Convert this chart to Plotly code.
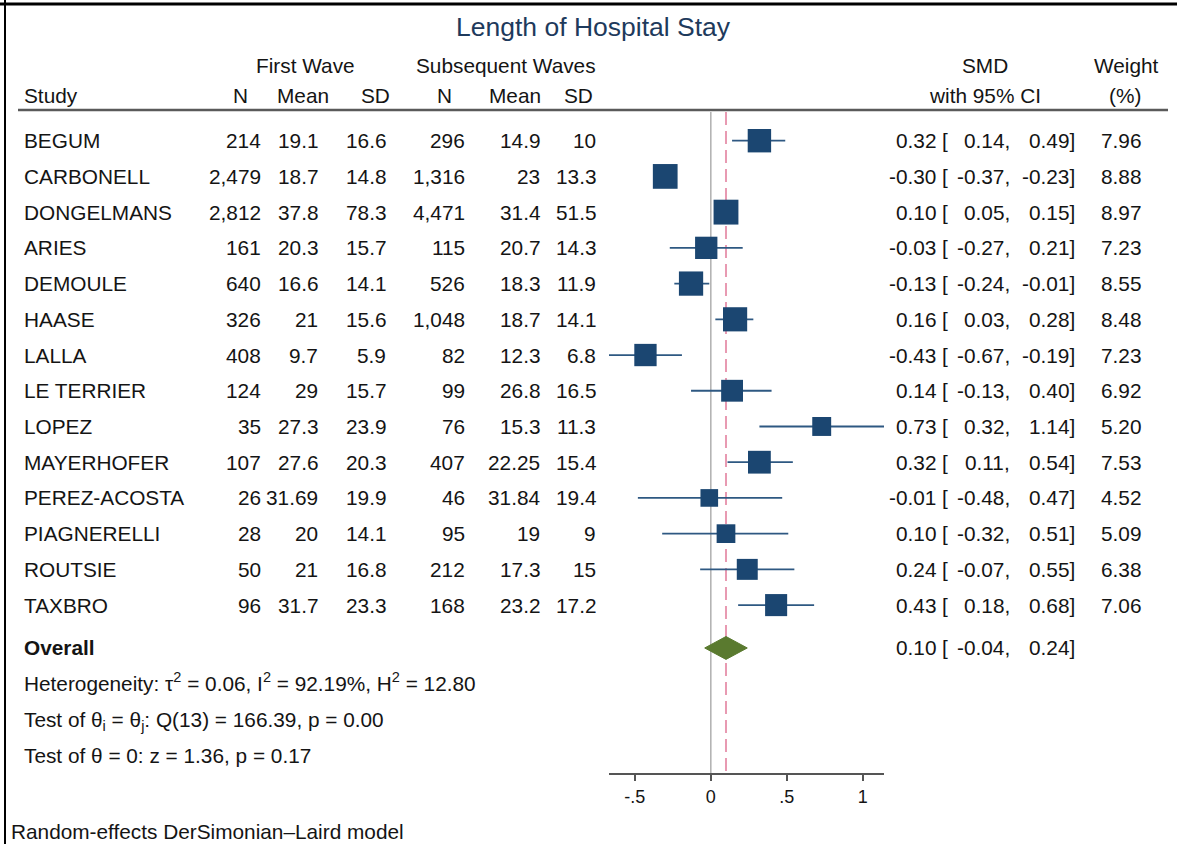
import math
import plotly.graph_objects as go

W, H = 1177, 844

# ---------------- data ----------------
studies = ["BEGUM", "CARBONELL", "DONGELMANS", "ARIES", "DEMOULE", "HAASE", "LALLA",
           "LE TERRIER", "LOPEZ", "MAYERHOFER", "PEREZ-ACOSTA", "PIAGNERELLI", "ROUTSIE", "TAXBRO"]
n_first = [214, 2479, 2812, 161, 640, 326, 408, 124, 35, 107, 26, 28, 50, 96]
mean_first = [19.1, 18.7, 37.8, 20.3, 16.6, 21, 9.7, 29, 27.3, 27.6, 31.69, 20, 21, 31.7]
sd_first = [16.6, 14.8, 78.3, 15.7, 14.1, 15.6, 5.9, 15.7, 23.9, 20.3, 19.9, 14.1, 16.8, 23.3]
n_sub = [296, 1316, 4471, 115, 526, 1048, 82, 99, 76, 407, 46, 95, 212, 168]
mean_sub = [14.9, 23, 31.4, 20.7, 18.3, 18.7, 12.3, 26.8, 15.3, 22.25, 31.84, 19, 17.3, 23.2]
sd_sub = [10, 13.3, 51.5, 14.3, 11.9, 14.1, 6.8, 16.5, 11.3, 15.4, 19.4, 9, 15, 17.2]
smd = [0.32, -0.30, 0.10, -0.03, -0.13, 0.16, -0.43, 0.14, 0.73, 0.32, -0.01, 0.10, 0.24, 0.43]
ci_lo = [0.14, -0.37, 0.05, -0.27, -0.24, 0.03, -0.67, -0.13, 0.32, 0.11, -0.48, -0.32, -0.07, 0.18]
ci_hi = [0.49, -0.23, 0.15, 0.21, -0.01, 0.28, -0.19, 0.40, 1.14, 0.54, 0.47, 0.51, 0.55, 0.68]
weight = [7.96, 8.88, 8.97, 7.23, 8.55, 8.48, 7.23, 6.92, 5.20, 7.53, 4.52, 5.09, 6.38, 7.06]

overall_es, overall_lo, overall_hi = 0.10, -0.04, 0.24
tau2, i2, h2 = 0.06, 92.19, 12.80
q_df, q_stat, q_p = 13, 166.39, 0.00
z_stat, z_p = 1.36, 0.17

tick_vals = [-0.5, 0, 0.5, 1]
tick_text = ["-.5", "0", ".5", "1"]

# ---------------- layout helpers ----------------
rows = list(range(len(studies)))
ov_row = 14.2
stat_rows = [15.2, 16.2, 17.2]
Y_TOP, Y_BOT = -0.803, 17.70          # row units at plot top / axis line
FONT = "Liberation Sans, Arial, sans-serif"
TXT = "#141414"
FS = 20.8


def px(x):
    return x / W


def py(y):
    return 1 - y / H


fig = go.Figure()

# CI lines
xs, ys = [], []
for r, lo, hi in zip(rows, ci_lo, ci_hi):
    xs += [lo, hi, None]
    ys += [r, r, None]
fig.add_trace(go.Scatter(x=xs, y=ys, mode="lines",
                         line=dict(color="#2e5882", width=1.8),
                         hoverinfo="skip", showlegend=False))

# study squares (area proportional to weight)
fig.add_trace(go.Scatter(x=smd, y=rows, mode="markers",
                         marker=dict(symbol="square", opacity=1,
                                     size=[8.3 * math.sqrt(w) for w in weight],
                                     color="#1b4671", line=dict(width=0)),
                         showlegend=False))

# overall diamond
dh = 0.32
fig.add_trace(go.Scatter(x=[overall_lo, overall_es, overall_hi, overall_es, overall_lo],
                         y=[ov_row, ov_row - dh, ov_row, ov_row + dh, ov_row],
                         mode="lines", fill="toself", fillcolor="#5a7a2f",
                         line=dict(color="#5a7a2f", width=1), showlegend=False))

shapes = [
    # no-effect line
    dict(type="line", xref="x", yref="y", x0=0, x1=0, y0=Y_TOP, y1=Y_BOT,
         line=dict(color="#b4b4b4", width=1.6), layer="below"),
    # overall effect line
    dict(type="line", xref="x", yref="y", x0=overall_es, x1=overall_es, y0=Y_TOP, y1=Y_BOT,
         line=dict(color="#e89ab2", width=2, dash="13px,6px"), layer="below"),
    # header rule
    dict(type="line", xref="paper", yref="paper", x0=px(18), x1=px(1168), y0=py(110), y1=py(110),
         line=dict(color="#5a5a5a", width=2.5)),
    # frame borders
    dict(type="line", xref="paper", yref="paper", x0=0, x1=1, y0=py(4), y1=py(4),
         line=dict(color="#000000", width=3)),
    dict(type="line", xref="paper", yref="paper", x0=px(5), x1=px(5), y0=0, y1=1,
         line=dict(color="#000000", width=2)),
]

annotations = []


def txt(x, y, text, anchor="right", yref="y", size=FS, color=TXT):
    annotations.append(dict(
        x=px(x), xref="paper", y=(y if yref == "y" else py(y)), yref=yref,
        text=text, showarrow=False, xanchor=anchor, yanchor="middle",
        font=dict(family=FONT, size=size, color=color), borderpad=0))


def fmt_n(v):
    return f"{v:,}"


def fmt_g(v):
    return f"{v:g}"


# title and headers
txt(593, 27, "Length of Hospital Stay", anchor="center", yref="paper", size=26.5, color="#1e3a5c")
txt(305, 66, "First Wave", anchor="center", yref="paper")
txt(506, 66, "Subsequent Waves", anchor="center", yref="paper")
txt(985, 66, "SMD", anchor="center", yref="paper")
txt(1126, 66, "Weight", anchor="center", yref="paper")
txt(23, 95, "Study", anchor="left", yref="paper")
txt(240, 95, "N", anchor="center", yref="paper")
txt(303, 95, "Mean", anchor="center", yref="paper")
txt(375, 95, "SD", anchor="center", yref="paper")
txt(444, 95, "N", anchor="center", yref="paper")
txt(515, 95, "Mean", anchor="center", yref="paper")
txt(578, 95, "SD", anchor="center", yref="paper")
txt(985, 95, "with 95% CI", anchor="center", yref="paper")
txt(1125, 95, "(%)", anchor="center", yref="paper")

# table rows
for r in rows:
    txt(23, r, studies[r], anchor="left")
    txt(262, r, fmt_n(n_first[r]))
    txt(319, r, fmt_g(mean_first[r]))
    txt(387, r, fmt_g(sd_first[r]))
    txt(466, r, fmt_n(n_sub[r]))
    txt(541, r, fmt_g(mean_sub[r]))
    txt(597, r, fmt_g(sd_sub[r]))
    txt(937, r, f"{smd[r]:.2f}")
    txt(941, r, "[", anchor="left")
    txt(1011, r, f"{ci_lo[r]:.2f},")
    txt(1076, r, f"{ci_hi[r]:.2f}]")
    txt(1142, r, f"{weight[r]:.2f}")

# overall row
txt(23, ov_row, "<b>Overall</b>", anchor="left")
txt(937, ov_row, f"{overall_es:.2f}")
txt(941, ov_row, "[", anchor="left")
txt(1011, ov_row, f"{overall_lo:.2f},")
txt(1076, ov_row, f"{overall_hi:.2f}]")

txt(23, stat_rows[0] - 0.05,
    f"Heterogeneity: τ<sup>2</sup> = {tau2:.2f}, I<sup>2</sup> = {i2:.2f}%, H<sup>2</sup> = {h2:.2f}",
    anchor="left")
txt(23, stat_rows[1] + 0.05,
    f"Test of θ<sub>i</sub> = θ<sub>j</sub>: Q({q_df}) = {q_stat:.2f}, p = {q_p:.2f}",
    anchor="left")
txt(23, stat_rows[2], f"Test of θ = 0: z = {z_stat:.2f}, p = {z_p:.2f}", anchor="left")

txt(10, 831, "Random-effects DerSimonian–Laird model", anchor="left", yref="paper")

fig.update_layout(
    width=W, height=H,
    margin=dict(l=0, r=0, t=0, b=0),
    paper_bgcolor="white", plot_bgcolor="white",
    showlegend=False,
    shapes=shapes, annotations=annotations,
    xaxis=dict(domain=[px(609), px(884)], range=[-0.67, 1.14],
               tickvals=tick_vals, ticktext=tick_text,
               ticks="outside", ticklen=6, tickwidth=1.5, tickcolor="#555555",
               showline=True, linecolor="#555555", linewidth=2,
               showgrid=False, zeroline=False,
               tickfont=dict(family=FONT, size=18, color=TXT)),
    yaxis=dict(domain=[py(773), py(112)], range=[Y_BOT, Y_TOP],
               visible=False, showgrid=False, zeroline=False),
)

fig.write_html("out.html")
